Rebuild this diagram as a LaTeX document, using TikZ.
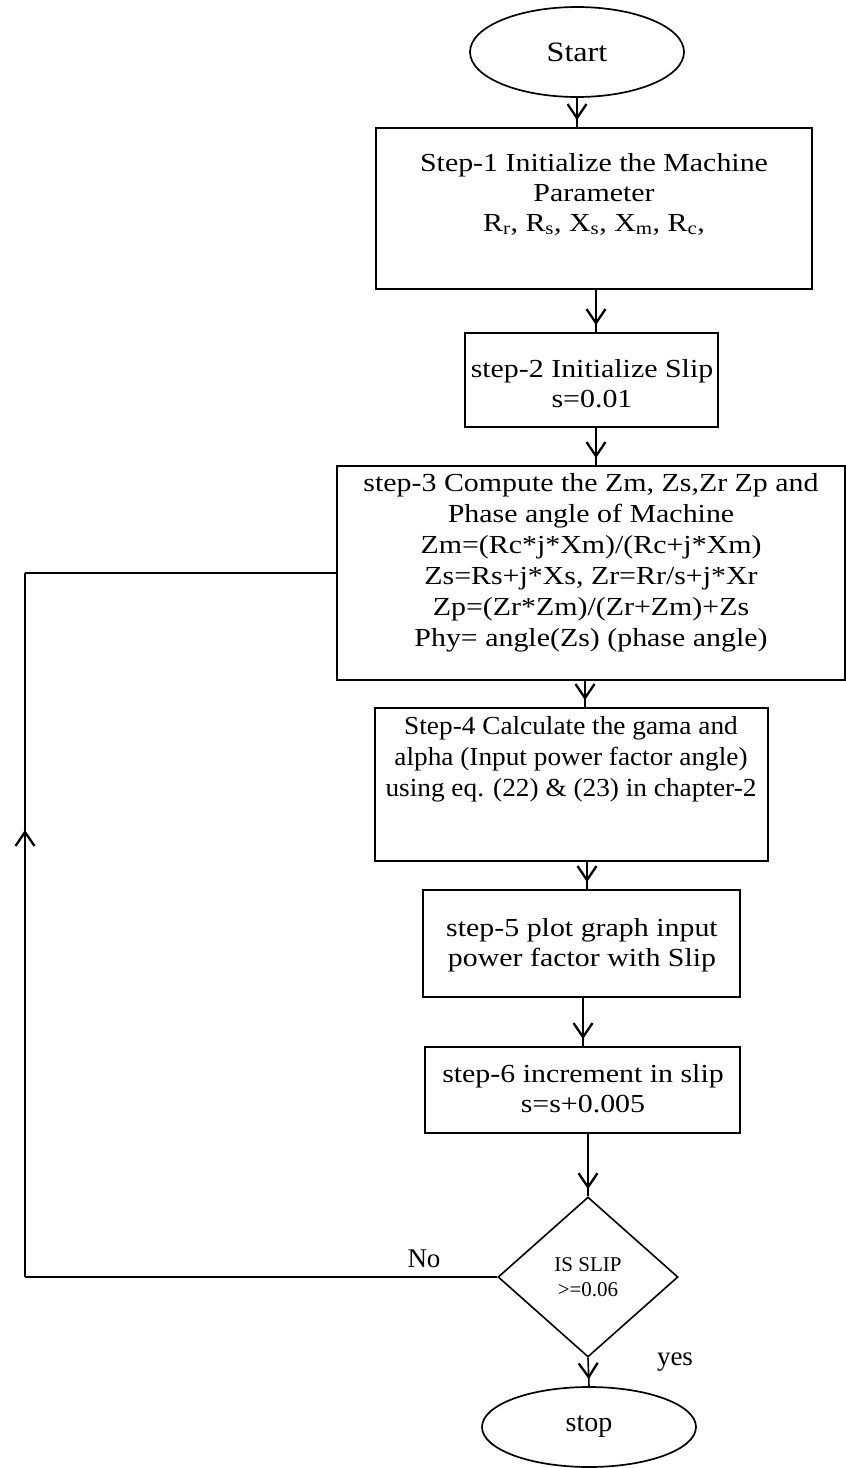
\documentclass[tikz,border=0pt]{standalone}
\usepackage{fontspec}
\setmainfont{Liberation Serif}
\newfontfamily\widefont[FakeStretch=1.15]{Liberation Serif}
\newfontfamily\semiwidefont[FakeStretch=1.05]{Liberation Serif}
\usetikzlibrary{shapes.geometric,arrows.meta,decorations.markings}
\begin{document}
\begin{tikzpicture}[x=1pt,y=-1pt,
  box/.style={draw,line width=1.8pt,rectangle,inner sep=0pt},
  txt/.style={align=center,inner sep=0pt,font=\widefont\fontsize{26}{30}\selectfont},
  term/.style={draw,line width=1.7pt,ellipse,inner sep=0pt},
  tip/.style={line width=2.3pt},
  flow/.style={line width=1.6pt,postaction={decorate},decoration={markings,
     mark=at position -7pt with {\arrow[tip]{Straight Barb[length=14pt,width=19pt]}}}},
  midflow/.style={line width=1.6pt,postaction={decorate},decoration={markings,
     mark=at position #1 with {\arrow[tip]{Straight Barb[length=14pt,width=19pt]}}}},
  lbl/.style={inner sep=0pt,font=\fontsize{27}{30}\selectfont}
]
\useasboundingbox (0,0) rectangle (846,1468);

% terminals
\node[term,minimum width=214pt,minimum height=90pt,font=\widefont\fontsize{28}{30}\selectfont] (start) at (577,52) {Start};
\node[term,minimum width=214pt,minimum height=80pt,font=\fontsize{28}{30}\selectfont] (stop) at (589,1427) {stop};

% boxes
\node[box,minimum width=436pt,minimum height=161pt] (s1) at (594,208.5) {};
\node[txt] (s1t) at (594,194) {Step-1 Initialize the Machine\\Parameter\\R\textsubscript{r}, R\textsubscript{s}, X\textsubscript{s}, X\textsubscript{m}, R\textsubscript{c},};

\node[box,minimum width=253pt,minimum height=94pt] (s2) at (591.5,380) {};
\node[txt] (s2t) at (592,384) {step-2 Initialize Slip\\s=0.01};

\node[box,minimum width=508pt,minimum height=214pt] (s3) at (591,573) {};
\node[txt,font=\widefont\fontsize{26}{31}\selectfont] (s3t) at (591,563) {step-3 Compute the Zm, Zs,Zr Zp and\\Phase angle of Machine\\Zm=(Rc*j*Xm)/(Rc+j*Xm)\\Zs=Rs+j*Xs, Zr=Rr/s+j*Xr\\Zp=(Zr*Zm)/(Zr+Zm)+Zs\\Phy= angle(Zs) (phase angle)};

\node[box,minimum width=393pt,minimum height=153pt] (s4) at (571.5,784.5) {};
\node[txt,font=\semiwidefont\fontsize{26}{31}\selectfont] (s4t) at (571,759) {Step-4 Calculate the gama and\\alpha (Input power factor angle)\\using eq. (22) \& (23) in chapter-2};

\node[box,minimum width=317pt,minimum height=107pt] (s5) at (581.5,943.5) {};
\node[txt] (s5t) at (582,945) {step-5 plot graph input\\power factor with Slip};

\node[box,minimum width=315pt,minimum height=86pt] (s6) at (582.5,1090) {};
\node[txt] (s6t) at (583,1089) {step-6 increment in slip\\s=s+0.005};

% decision
\node[draw,line width=1.6pt,diamond,inner sep=0pt,minimum width=180pt,minimum height=160pt,
      align=center,font=\fontsize{21}{25}\selectfont] (dia) at (588,1277) {IS SLIP\\>=0.06};

% labels
\node[lbl] (no) at (424,1259) {No};
\node[lbl] (yes) at (675,1362) {yes};

% connectors
\draw[flow] (start.south -| 577,0) -- (s1.north -| 577,0);
\draw[flow] (s1.south -| 596,0) -- (s2.north -| 596,0);
\draw[flow] (s2.south -| 596,0) -- (s3.north -| 596,0);
\draw[flow] (s3.south -| 585,0) -- (s4.north -| 585,0);
\draw[flow] (s4.south -| 587,0) -- (s5.north -| 587,0);
\draw[flow] (s5.south -| 583,0) -- (s6.north -| 583,0);
\draw[flow] (s6.south -| 588,0) -- (dia.north);
\draw[flow] (dia.south) -- (stop.north);

% loop back
\coordinate (lb) at (25,1277);
\coordinate (lt) at (25,573);
\draw[line width=1.6pt] (dia.west) -- (lb);
\draw[midflow=0.635] (lb) -- (lt);
\draw[line width=1.6pt] (lt) -- (s3.west);
\end{tikzpicture}
\end{document}
